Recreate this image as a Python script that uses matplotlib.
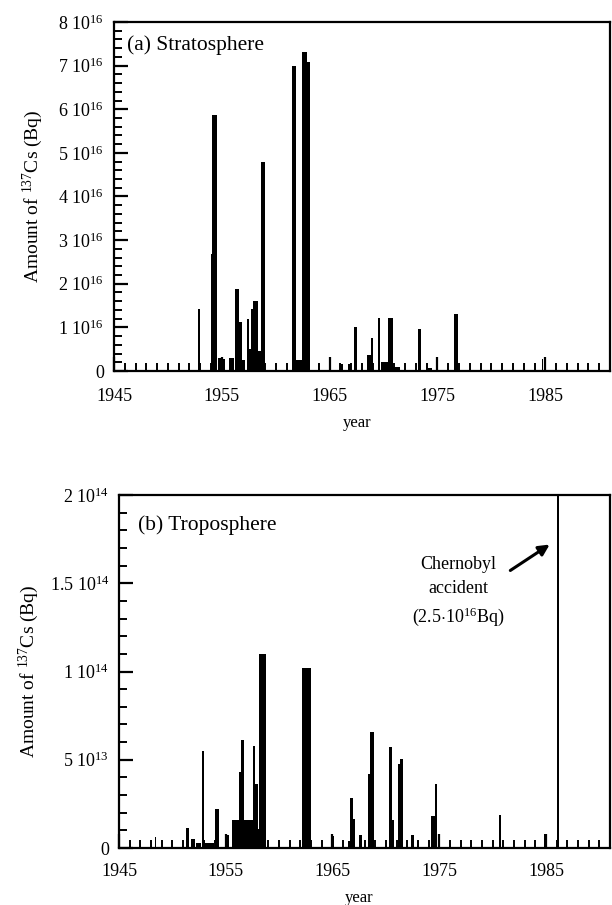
import matplotlib
matplotlib.use("Agg")
import matplotlib.pyplot as plt
from matplotlib.ticker import FixedLocator, MultipleLocator, FixedFormatter

plt.rcParams['font.family'] = ['Liberation Serif', 'DejaVu Serif']
plt.rcParams['mathtext.fontset'] = 'custom'
plt.rcParams['mathtext.rm'] = 'Liberation Serif'
plt.rcParams['mathtext.it'] = 'Liberation Serif:italic'
plt.rcParams['mathtext.bf'] = 'Liberation Serif:bold'

# ---- Stratosphere: interval start, interval end (year), amount (units of 1e16 Bq)
strat_start = [1952.79, 1954.00, 1954.12, 1954.68, 1955.00, 1955.70, 1956.22, 1956.62, 1956.84,
               1957.30, 1957.52, 1957.67, 1957.92, 1958.38, 1958.63, 1961.48, 1961.88, 1962.40,
               1962.87, 1963.95, 1965.00, 1966.00, 1966.70, 1967.25, 1968.43, 1968.80, 1969.50,
               1969.80, 1970.45, 1970.90, 1973.22, 1974.15, 1974.86, 1976.53, 1984.66]
strat_end   = [1953.00, 1954.12, 1954.52, 1954.90, 1955.30, 1956.13, 1956.62, 1956.84, 1957.15,
               1957.52, 1957.67, 1957.92, 1958.38, 1958.63, 1959.00, 1961.88, 1962.40, 1962.87,
               1963.18, 1964.05, 1965.10, 1966.25, 1966.95, 1967.50, 1968.80, 1969.05, 1969.70,
               1970.45, 1970.90, 1971.50, 1973.47, 1974.45, 1975.08, 1976.93, 1984.80]
strat_val   = [1.43, 2.69, 5.86, 0.30, 0.28, 0.30, 1.89, 1.12, 0.26,
               1.20, 0.50, 1.41, 1.60, 0.46, 4.78, 7.00, 0.25, 7.31,
               7.08, 0.17, 0.28, 0.15, 0.15, 1.00, 0.36, 0.76, 1.22,
               0.20, 1.22, 0.10, 0.97, 0.08, 0.28, 1.31, 0.28]

# ---- Troposphere: interval start, end (year), amount (units of 1e13 Bq)
trop_start = [1948.35, 1951.24, 1951.77, 1952.24, 1952.80, 1953.00, 1954.04, 1955.10, 1955.60,
              1956.27, 1956.43, 1956.74, 1957.58, 1957.77, 1957.98, 1958.14, 1962.10, 1964.95,
              1966.50, 1966.67, 1966.90, 1967.45, 1968.32, 1968.50, 1970.25, 1970.56, 1971.18,
              1971.37, 1972.36, 1972.90, 1974.22, 1974.60, 1974.90, 1980.60, 1984.78, 1986.00]
trop_end   = [1948.50, 1951.60, 1952.08, 1952.70, 1953.00, 1953.94, 1954.35, 1955.28, 1956.27,
              1956.43, 1956.74, 1957.52, 1957.77, 1957.98, 1958.14, 1958.76, 1962.95, 1965.10,
              1966.60, 1966.90, 1967.14, 1967.76, 1968.50, 1968.85, 1970.56, 1970.80, 1971.37,
              1971.65, 1972.67, 1973.10, 1974.60, 1974.75, 1975.06, 1980.80, 1984.97, 1986.18]
trop_val   = [0.60, 1.13, 0.50, 0.30, 5.50, 0.30, 2.23, 0.72, 1.57,
              4.30, 6.10, 1.60, 5.80, 3.65, 1.10, 11.00, 10.17, 0.70,
              0.40, 2.83, 1.66, 0.72, 4.20, 6.58, 5.73, 1.57, 4.78,
              5.07, 0.72, 0.40, 1.80, 3.65, 0.72, 1.85, 0.78, 2500.0]

strat_ticks = [0, 1, 2, 3, 4, 5, 6, 7, 8]
strat_labels = ['0'] + ['%d 10$^{16}$' % v for v in strat_ticks[1:]]
trop_ticks = [0, 5, 10, 15, 20]
trop_labels = ['0', '5 10$^{13}$', '1 10$^{14}$', '1.5 10$^{14}$', '2 10$^{14}$']
year_ticks = [1945, 1955, 1965, 1975, 1985]

W, H = 612.0, 905.0
fig = plt.figure(figsize=(6.12, 9.05), dpi=100)
ax1 = fig.add_axes([114 / W, 1 - 371 / H, (610 - 114) / W, (371 - 22) / H])
ax2 = fig.add_axes([119 / W, 1 - 848 / H, (610 - 119) / W, (848 - 495) / H])


def style(ax, xpad, ylab_x, xlab_y):
    for s in ax.spines.values():
        s.set_linewidth(1.6)
    ax.tick_params(which='both', direction='in', top=False, right=False, labelsize=13)
    ax.tick_params(axis='y', which='both', pad=7)
    ax.tick_params(axis='x', which='both', pad=xpad)
    ax.tick_params(which='major', length=10, width=1.6)
    ax.tick_params(which='minor', length=6, width=1.4)
    ax.set_xlim(1945, 1991)
    ax.xaxis.set_major_locator(FixedLocator(year_ticks))
    ax.xaxis.set_minor_locator(MultipleLocator(1))
    ax.set_xlabel('year', fontsize=12)
    ax.xaxis.set_label_coords(0.49, xlab_y)
    ax.set_ylabel('Amount of $^{137}$Cs (Bq)', fontsize=14)
    ax.yaxis.set_label_coords(ylab_x, 0.5)


def widths(starts, ends):
    return [e - s for s, e in zip(starts, ends)]


# top panel
ax1.bar(strat_start, strat_val, width=widths(strat_start, strat_end),
        align='edge', color='black', linewidth=0)
style(ax1, 12, -0.14, -0.125)
ax1.set_ylim(0, 8)
ax1.yaxis.set_major_locator(FixedLocator(strat_ticks))
ax1.yaxis.set_major_formatter(FixedFormatter(strat_labels))
ax1.yaxis.set_minor_locator(MultipleLocator(0.2))
t1 = ax1.text(127 / 100, (H - 45) / 100, '(a) Stratosphere', fontsize=15.5, va='center')
t1.set_transform(fig.dpi_scale_trans)

# bottom panel
ax2.bar(trop_start, trop_val, width=widths(trop_start, trop_end),
        align='edge', color='black', linewidth=0)
style(ax2, 11, -0.158, -0.12)
ax2.set_ylim(0, 20)
ax2.yaxis.set_major_locator(FixedLocator(trop_ticks))
ax2.yaxis.set_major_formatter(FixedFormatter(trop_labels))
ax2.yaxis.set_minor_locator(MultipleLocator(1))
t = ax2.text(138 / 100, (H - 525) / 100, '(b) Troposphere', fontsize=15.5, va='center')
t.set_transform(fig.dpi_scale_trans)
t2 = ax2.text(458 / 100, (H - 592) / 100, 'Chernobyl\naccident\n(2.5$\\cdot$10$^{16}$Bq)',
              ha='center', va='center', fontsize=13, linespacing=1.5)
t2.set_transform(fig.dpi_scale_trans)
ax2.annotate('', xy=(552 / 100, (H - 543) / 100), xytext=(508 / 100, (H - 572) / 100),
             xycoords=fig.dpi_scale_trans, textcoords=fig.dpi_scale_trans,
             arrowprops=dict(arrowstyle='-|>', color='black', lw=2.2, mutation_scale=16))

fig.savefig('out.png', dpi=100)
